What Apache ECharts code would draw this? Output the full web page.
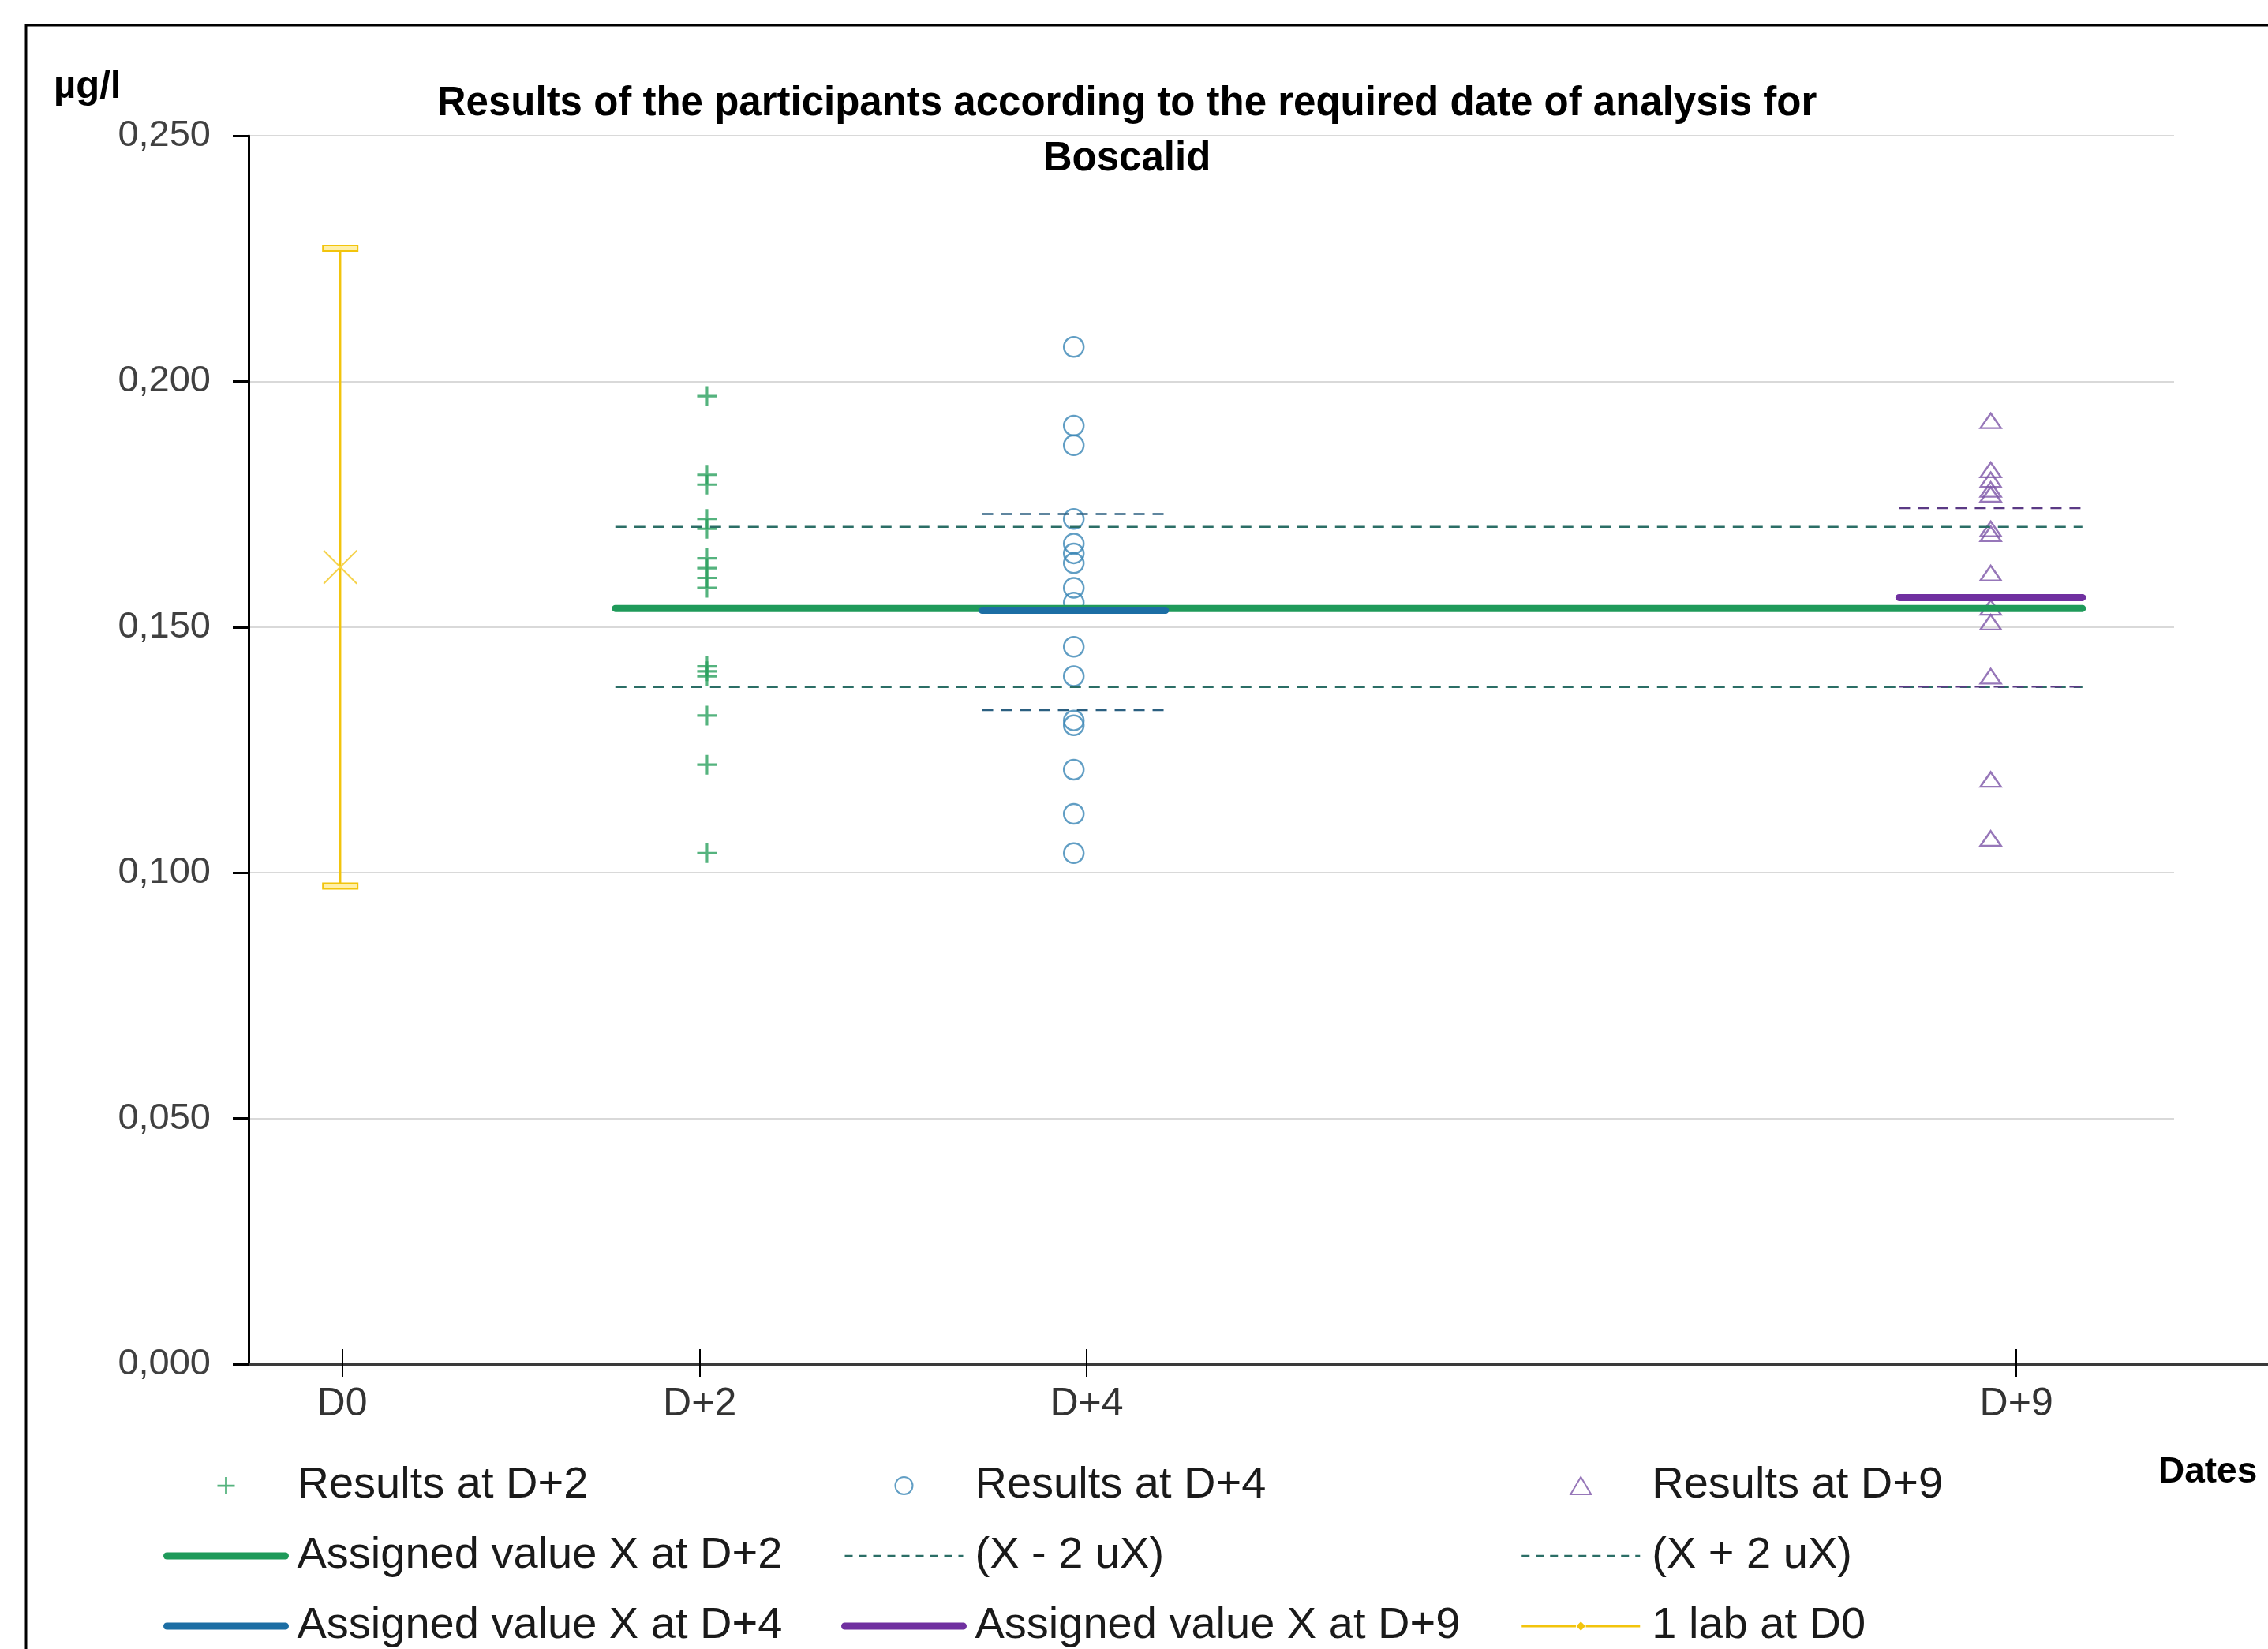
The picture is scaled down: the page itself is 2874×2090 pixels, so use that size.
<!DOCTYPE html>
<html>
<head>
<meta charset="utf-8">
<script src="https://cdn.jsdelivr.net/npm/echarts@6/dist/echarts.min.js"></script>
<style>
  html, body { margin: 0; padding: 0; background: #fff; }
  #chart { width: 2874px; height: 2090px; }
</style>
</head>
<body>
<div id="chart"></div>
<script>
// days of analysis and where the date labels sit on the axis
var days = [0, 2, 4, 9];
var tickPos = [0.01, 1.96, 4.07, 9.14];
var tickLabels = ['D0', 'D+2', 'D+4', 'D+9'];

// participants results (µg/l)
var resultsD2 = [0.197, 0.181, 0.179, 0.172, 0.170, 0.164, 0.162, 0.160, 0.158, 0.142, 0.141, 0.140, 0.132, 0.122, 0.104];
var resultsD4 = [0.207, 0.191, 0.187, 0.172, 0.167, 0.165, 0.163, 0.158, 0.155, 0.146, 0.140, 0.131, 0.130, 0.121, 0.112, 0.104];
var resultsD9 = [0.192, 0.182, 0.180, 0.178, 0.177, 0.170, 0.169, 0.161, 0.154, 0.151, 0.140, 0.119, 0.107];

// assigned value X and X -/+ 2uX for D+2, D+4, D+9
var assigned = [0.1538, 0.1534, 0.1560];
var lowerLim = [0.1378, 0.1331, 0.1379];
var upperLim = [0.1704, 0.1730, 0.1742];
var segStart = [1.5, 3.5, 8.5];
var segEnd = [9.5, 4.5, 9.5];

// 1 lab at D0 : value, low, high
var labD0 = [0.1622, 0.0973, 0.2271];

var FONT = "'Liberation Sans', Arial, sans-serif";
var green = '#1f9a5a', blue = '#1c6ea4', purple = '#7030a0', yellow = '#f2c40c';
var dashCol = ['#2b6e66', '#2b5f80', '#5b3a85'];
var solidCol = [green, blue, purple];
var solidNames = ['Assigned value X at D+2', 'Assigned value X at D+4', 'Assigned value X at D+9'];
var triPath = 'path://M13,0 L26,22 L0,22 Z';

var chart = echarts.init(document.getElementById('chart'));

var series = [];
// dashed limits
for (var i = 0; i < 3; i++) {
    series.push({
        name: '(X - 2 uX)', type: 'line', symbol: 'none', z: 3,
        itemStyle: { color: dashCol[i] },
        lineStyle: { color: dashCol[i], width: 2.5, type: [14, 10] },
        data: [[segStart[i], lowerLim[i]], [segEnd[i], lowerLim[i]]]
    });
    series.push({
        name: '(X + 2 uX)', type: 'line', symbol: 'none', z: 3,
        itemStyle: { color: dashCol[i] },
        lineStyle: { color: dashCol[i], width: 2.5, type: [14, 10] },
        data: [[segStart[i], upperLim[i]], [segEnd[i], upperLim[i]]]
    });
}
// assigned values
for (var j = 0; j < 3; j++) {
    series.push({
        name: solidNames[j], type: 'line', symbol: 'none', z: 4,
        itemStyle: { color: solidCol[j] },
        lineStyle: { color: solidCol[j], width: 9, cap: 'round' },
        data: [[segStart[j], assigned[j]], [segEnd[j], assigned[j]]]
    });
}
series.push({
    name: 'Results at D+2', type: 'scatter', z: 2,
    symbol: 'path://M10.5,0 H13.5 V10.5 H24 V13.5 H13.5 V24 H10.5 V13.5 H0 V10.5 H10.5 Z',
    symbolSize: 25, symbolKeepAspect: true,
    itemStyle: { color: '#2aa05e' },
    data: resultsD2.map(function (v) { return [days[1], v]; })
});
series.push({
    name: 'Results at D+4', type: 'scatter', z: 2,
    symbol: 'circle', symbolSize: 25,
    itemStyle: { color: 'rgba(255,255,255,0)', borderColor: '#3a86b5', borderWidth: 2.5 },
    data: resultsD4.map(function (v) { return [days[2], v]; })
});
series.push({
    name: 'Results at D+9', type: 'scatter', z: 2,
    symbol: triPath, symbolSize: [26, 22], symbolKeepAspect: true,
    itemStyle: { color: 'rgba(255,255,255,0)', borderColor: '#7d55a8', borderWidth: 2.5 },
    data: resultsD9.map(function (v) { return [days[3], v]; })
});
series.push({
    name: '1 lab at D0', type: 'custom', z: 2,
    itemStyle: { color: yellow },
    data: [[days[0], labD0[0], labD0[1], labD0[2]]],
    renderItem: function (params, api) {
        var x = api.value(0);
        var pc = api.coord([x, api.value(1)]);
        var pl = api.coord([x, api.value(2)]);
        var ph = api.coord([x, api.value(3)]);
        var cw = 44, ch = 7, xs = 21;
        return {
            type: 'group',
            children: [
                { type: 'line', shape: { x1: pl[0], y1: pl[1], x2: ph[0], y2: ph[1] }, style: { stroke: yellow, lineWidth: 2.5 } },
                { type: 'rect', shape: { x: ph[0] - cw / 2, y: ph[1] - ch / 2, width: cw, height: ch }, style: { fill: '#fff0a8', stroke: yellow, lineWidth: 2 } },
                { type: 'rect', shape: { x: pl[0] - cw / 2, y: pl[1] - ch / 2, width: cw, height: ch }, style: { fill: '#fff0a8', stroke: yellow, lineWidth: 2 } },
                { type: 'line', shape: { x1: pc[0] - xs, y1: pc[1] - xs, x2: pc[0] + xs, y2: pc[1] + xs }, style: { stroke: '#f5d24a', lineWidth: 2 } },
                { type: 'line', shape: { x1: pc[0] - xs, y1: pc[1] + xs, x2: pc[0] + xs, y2: pc[1] - xs }, style: { stroke: '#f5d24a', lineWidth: 2 } }
            ]
        };
    }
});

// legend entries for the line series: plain line, no symbol
function solidItem(k) {
    return { name: solidNames[k], itemStyle: { opacity: 0 }, lineStyle: { color: solidCol[k], width: 9, cap: 'round', type: 'solid' } };
}
function dashItem(name) {
    return { name: name, itemStyle: { opacity: 0 }, lineStyle: { color: dashCol[0], width: 2.5, type: [10, 8] } };
}

function legendCol(left, names) {
    return {
        orient: 'vertical', left: left, top: 1855, height: 320, padding: 0,
        itemWidth: 150, itemHeight: 22, itemGap: 33,
        selectedMode: false, symbolKeepAspect: true,
        textStyle: { fontSize: 56, lineHeight: 56, fontFamily: FONT, color: '#1a1a1a', padding: [0, 0, 0, 10] },
        data: names
    };
}

var option = {
    backgroundColor: '#fff',
    animation: false,
    title: [
        {
            text: 'Results of the participants according to the required date of analysis for\nBoscalid',
            left: 1423, top: 92, textAlign: 'center',
            textStyle: { fontSize: 51, fontWeight: 'bold', lineHeight: 70, fontFamily: FONT, color: '#000' }
        },
        {
            text: 'µg/l', left: 63, top: 77,
            textStyle: { fontSize: 49, fontWeight: 'bold', lineHeight: 56, fontFamily: FONT, color: '#000' }
        },
        {
            text: 'Dates', left: 2730, top: 1833,
            textStyle: { fontSize: 46, fontWeight: 'bold', lineHeight: 56, fontFamily: FONT, color: '#000' }
        }
    ],
    legend: [
        legendCol(207, ['Results at D+2', solidItem(0), solidItem(1)]),
        legendCol(1066, ['Results at D+4', dashItem('(X - 2 uX)'), solidItem(2)]),
        legendCol(1927, [{ name: 'Results at D+9', icon: triPath }, dashItem('(X + 2 uX)'),
            { name: '1 lab at D0', icon: 'path://M0,9.5 H71 V12.5 H0 Z M77.5,5 L83.5,11 L77.5,17 L71.5,11 Z M84,9.5 H155 V12.5 H84 Z' }])
    ],
    grid: [
        { left: 315, right: 119, top: 172, bottom: 361, outerBoundsMode: 'none' },
        { left: 2755, right: 0, top: 172, bottom: 361, outerBoundsMode: 'none' }
    ],
    xAxis: [
        {
            type: 'value', gridIndex: 0, min: -0.5, max: 10,
            axisLine: { show: true, onZero: false, lineStyle: { color: '#3a3a3a', width: 3 } },
            axisTick: { show: true, length: 16, customValues: tickPos, lineStyle: { color: '#000', width: 2 } },
            axisLabel: {
                customValues: tickPos, margin: 26, fontSize: 50, fontFamily: FONT, color: '#333',
                formatter: function (v) { return tickLabels[tickPos.indexOf(v)]; }
            },
            splitLine: { show: false }
        },
        {
            type: 'value', gridIndex: 0, min: -0.5, max: 10, position: 'bottom',
            axisLine: { show: false, onZero: false },
            axisTick: { show: true, inside: true, length: 19, customValues: tickPos, lineStyle: { color: '#000', width: 2 } },
            axisLabel: { show: false },
            splitLine: { show: false }
        },
        {
            type: 'value', gridIndex: 1, min: 0, max: 1,
            axisLine: { show: true, onZero: false, lineStyle: { color: '#3a3a3a', width: 3 } },
            axisTick: { show: false }, axisLabel: { show: false }, splitLine: { show: false }
        }
    ],
    yAxis: [
        {
            type: 'value', gridIndex: 0, min: 0, max: 0.25, interval: 0.05,
            axisLine: { show: true, onZero: false, lineStyle: { color: '#000', width: 3 } },
            axisTick: { show: true, length: 20, lineStyle: { color: '#000', width: 3 } },
            axisLabel: {
                margin: 48, fontSize: 47, fontFamily: FONT, color: '#404040',
                formatter: function (v) { return v.toFixed(3).replace('.', ','); }
            },
            splitLine: { show: true, lineStyle: { color: '#d9d9d9', width: 2 } }
        },
        { type: 'value', gridIndex: 1, min: 0, max: 1, show: false }
    ],
    graphic: [
        { type: 'rect', silent: true, z: 100, shape: { x: 33, y: 32, width: 3000, height: 3000 }, style: { fill: 'none', stroke: '#000', lineWidth: 3 } }
    ],
    series: series
};

chart.setOption(option);
</script>
</body>
</html>
